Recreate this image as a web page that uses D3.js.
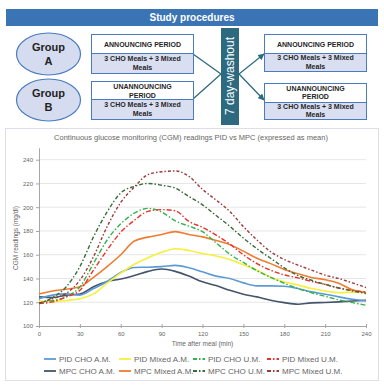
<!DOCTYPE html>
<html><head><meta charset="utf-8">
<script src="https://cdn.jsdelivr.net/npm/d3@7"></script>
<style>
body{margin:0;background:#fff}
svg{display:block;font-family:"Liberation Sans",Arial,sans-serif}
</style>
</head><body>
<svg id="c" width="384" height="388"></svg>
<script>
// ---------- data ----------
const times = [0,10,20,30,40,50,60,70,80,90,100,110,120,130,140,150,160,170,180,190,200,210,220,230,240];
const pidChoAM   = [123,126,127,126,131.5,137.5,145,149.3,149.5,150,151,149,145.6,142,140,136.3,133.8,133.8,133.5,131.5,128.7,126.8,124.5,122.5,121];
const pidMixedAM = [121,120.5,121.5,123,127,136,144.5,152,157.5,162,165,163.5,161,159,156,151.5,147,141,137,134.5,131.5,129.5,128,128.5,128.7];
const pidChoUM   = [119.5,121.5,124.5,133,152.7,172.4,186,195,199,196,188.5,184,179.4,170,160.5,153.5,146.5,141,136,131.5,128,125,122,119.7,117.5];
const pidMixedUM = [119,120.3,124.5,130,147,164,179,189,196.5,198,197,188,183,176.5,169,160,152.5,147,143,140.5,137.5,135,132,130,128.7];
const mpcChoAM   = [124.5,124,126,127,133,137.5,139.5,142.5,146,148,146,142,137.2,134,130,126.8,124.5,121.7,119.7,118.3,119.5,119.8,120.3,121,121.7];
const mpcMixedAM = [127,129.5,131,133,141,150,160,171.5,174.8,177,179.4,177,175,172,168.5,163,157,152.5,147.6,144,140.8,139,136,130.5,128];
const mpcChoUM   = [119,124,133,150,175,196,212,217.5,220,218.5,216,209,202,193,184,174,165,157,149,142.5,138.5,135,132,129.5,127.3];
const mpcMixedUM = [119,123,127.5,138.6,158.3,183.7,204,217,227.5,229.8,230.5,226,215,206,196.5,183.7,172.4,162.5,156,151.3,147,142.8,140,136.3,132.4];

const seriesNames = ["PID CHO A.M.","PID Mixed A.M.","PID CHO U.M.","PID Mixed U.M.",
                     "MPC CHO A.M.","MPC Mixed A.M.","MPC CHO U.M.","MPC Mixed U.M."];
const seriesValues = [pidChoAM,pidMixedAM,pidChoUM,pidMixedUM,mpcChoAM,mpcMixedAM,mpcChoUM,mpcMixedUM];
const yTicks = [100,120,140,160,180,200,220,240];
const xTicks = [0,30,60,90,120,150,180,210,240];

const chartTitle = "Continuous glucose monitoring (CGM) readings PID vs MPC (expressed as mean)";
const xTitle = "Time after meal (min)";
const yTitle = "CGM readings (mg/dl)";

// diagram texts
const headerText = "Study procedures";
const groupLabels = ["A","B"];
const washoutText = "7 day-washout";

// ---------- styles ----------
const colors = ["#5b9bd5","#f7ef3a","#35b24c","#e8332c","#44546a","#ed7d31","#3a6b3a","#9c3a3a"];
const dashes = [null,null,"5,2,1.5,2","5,2,1.5,2",null,null,"4,2,1.5,2","3,2,1.5,2"];

const svg = d3.select("#c");

// ---------- diagram ----------
const dg = svg.append("g");
dg.append("rect").attr("x",6).attr("y",9).attr("width",372).attr("height",17).attr("fill","#3b74b4");
dg.append("text").attr("x",192).attr("y",21).attr("text-anchor","middle")
  .attr("fill","#fff").attr("font-weight","bold").attr("font-size",10).text(headerText);

const lineCol = "#2d6a80";
const conn = [[193,54,221,74],[193,99,221,74]];
conn.forEach(c=>dg.append("line").attr("x1",c[0]).attr("y1",c[1]).attr("x2",c[2]).attr("y2",c[3])
  .attr("stroke",lineCol).attr("stroke-width",1.3));
svg.append("defs").append("marker").attr("id","ah").attr("viewBox","0 0 10 10").attr("refX",9).attr("refY",5)
  .attr("markerWidth",5).attr("markerHeight",5).attr("orient","auto")
  .append("path").attr("d","M0,0L10,5L0,10z").attr("fill",lineCol);
const arr = [[239,74,264,54],[239,74,264,100]];
arr.forEach(c=>dg.append("line").attr("x1",c[0]).attr("y1",c[1]).attr("x2",c[2]).attr("y2",c[3])
  .attr("stroke",lineCol).attr("stroke-width",1.3).attr("marker-end","url(#ah)"));

dg.append("rect").attr("x",221).attr("y",28).attr("width",18).attr("height",97).attr("fill","#2d6a80");
dg.append("text").attr("transform","translate(234.3,76) rotate(-90)").attr("text-anchor","middle")
  .attr("fill","#fff").attr("font-size",12).text(washoutText);

const groupY = [54,100];
groupY.forEach((gy,i)=>{
  dg.append("ellipse").attr("cx",48.5).attr("cy",gy).attr("rx",32).attr("ry",21)
    .attr("fill","#d5dcef").attr("stroke","#4a7bc0").attr("stroke-width",1.2);
  dg.append("text").attr("x",48.5).attr("y",gy-3).attr("text-anchor","middle").attr("font-weight","bold")
    .attr("font-size",11).attr("fill","#222").text("Group");
  dg.append("text").attr("x",48.5).attr("y",gy+11).attr("text-anchor","middle").attr("font-weight","bold")
    .attr("font-size",11).attr("fill","#222").text(groupLabels[i]);
});

const boxes = [
  {x:91, y0:34, y1:53, y2:73, head:["ANNOUNCING PERIOD"], hy:[46.5], my:[60.5,69.5]},
  {x:91, y0:81, y1:99, y2:119, head:["UNANNOUNCING","PERIOD"], hy:[88.5,97.5], my:[107,116]},
  {x:264, y0:34, y1:53, y2:71, head:["ANNOUNCING PERIOD"], hy:[46.5], my:[60,69]},
  {x:264, y0:83, y1:102, y2:119, head:["UNANNOUNCING","PERIOD"], hy:[90.5,99], my:[108.5,117]}
];
const mealLines = ["3 CHO Meals + 3 Mixed","Meals"];
boxes.forEach(b=>{
  dg.append("rect").attr("x",b.x+0.5).attr("y",b.y0+0.5).attr("width",102).attr("height",b.y1-b.y0)
    .attr("fill","#fff").attr("stroke","#4a7bc0").attr("stroke-width",1);
  dg.append("rect").attr("x",b.x+0.5).attr("y",b.y1+0.5).attr("width",102).attr("height",b.y2-b.y1)
    .attr("fill","#d9def1").attr("stroke","#4a7bc0").attr("stroke-width",1);
  b.head.forEach((t,i)=>dg.append("text").attr("x",b.x+51.5).attr("y",b.hy[i]).attr("text-anchor","middle")
    .attr("font-weight","bold").attr("font-size",7).attr("fill","#262626").text(t));
  mealLines.forEach((t,i)=>dg.append("text").attr("x",b.x+51.5).attr("y",b.my[i]).attr("text-anchor","middle")
    .attr("font-weight","bold").attr("font-size",7).attr("fill","#262626").text(t));
});

// ---------- chart ----------
svg.append("rect").attr("x",5.5).attr("y",128.5).attr("width",373).attr("height",252)
  .attr("fill","#fff").attr("stroke","#dedee8").attr("stroke-width",1);

const x = d3.scaleLinear().domain([0,240]).range([39,366]);
const y = d3.scaleLinear().domain([100,250]).range([326,147.8]);

svg.append("text").attr("x",191).attr("y",140).attr("text-anchor","middle")
  .attr("font-size",7.5).attr("fill","#666").text(chartTitle);

svg.append("g").selectAll("line").data(yTicks.filter(d=>d>100)).join("line")
  .attr("x1",x(0)).attr("x2",x(240)).attr("y1",d=>y(d)).attr("y2",d=>y(d))
  .attr("stroke","#e6e6e6").attr("stroke-width",1);

const axCol = "#a6a6a6";
const yAx = svg.append("g").attr("transform",`translate(${x(0)},0)`)
  .call(d3.axisLeft(y).tickValues(yTicks).tickSize(3).tickSizeOuter(0).tickPadding(3));
const xAx = svg.append("g").attr("transform",`translate(0,${y(100)})`)
  .call(d3.axisBottom(x).tickValues(xTicks).tickSize(3).tickSizeOuter(0).tickPadding(3));
[yAx,xAx].forEach(a=>{
  a.select(".domain").attr("stroke",axCol);
  a.selectAll(".tick line").attr("stroke",axCol);
  a.selectAll(".tick text").attr("fill","#666").attr("font-size",6).attr("font-family",null);
});
xAx.selectAll(".tick line").attr("y1",-2).attr("y2",2);

svg.append("text").attr("x",202.5).attr("y",346).attr("text-anchor","middle")
  .attr("font-size",6.5).attr("fill","#666").text(xTitle);
svg.append("text").attr("transform","translate(18,238) rotate(-90)").attr("text-anchor","middle")
  .attr("font-size",6.5).attr("fill","#666").text(yTitle);

const line = d3.line().x((d,i)=>x(times[i])).y(d=>y(d)).curve(d3.curveMonotoneX);
const drawOrder = [4,0,1,5,2,3,6,7];
drawOrder.forEach(k=>{
  svg.append("path").datum(seriesValues[k]).attr("d",line)
    .attr("fill","none").attr("stroke",colors[k]).attr("stroke-width",dashes[k]?1.4:1.6)
    .attr("stroke-dasharray",dashes[k]);
});

const colX = [44,119,193,267];
const rowY = [359,371];
const lg = svg.append("g");
seriesNames.forEach((n,i)=>{
  const cx = colX[i%4], cy = rowY[Math.floor(i/4)];
  lg.append("line").attr("x1",cx).attr("x2",cx+12).attr("y1",cy).attr("y2",cy)
    .attr("stroke",colors[i]).attr("stroke-width",1.8).attr("stroke-dasharray",dashes[i]?"4,2,1.5,2":null);
  lg.append("text").attr("x",cx+15).attr("y",cy+2.8).attr("font-size",8).attr("fill","#666").text(n);
});
</script>
</body></html>
